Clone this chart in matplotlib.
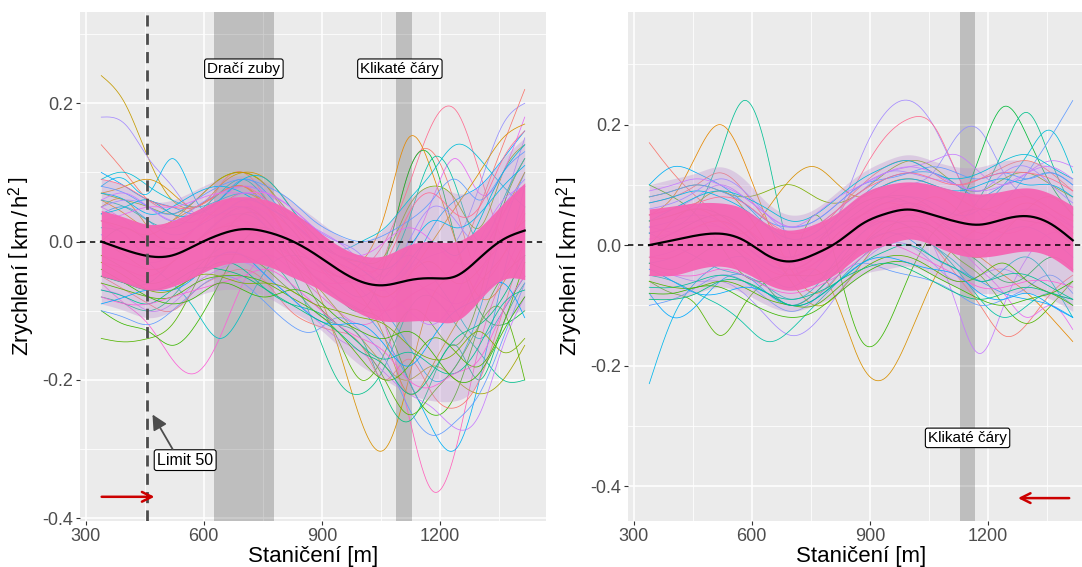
import numpy as np
import matplotlib
matplotlib.use("Agg")
import matplotlib.pyplot as plt

plt.rcParams['font.family'] = ['Liberation Sans', 'DejaVu Sans']
plt.rcParams['mathtext.fontset'] = 'custom'
plt.rcParams['mathtext.rm'] = 'Liberation Sans'
plt.rcParams['mathtext.it'] = 'Liberation Sans:italic'

# ---------------- data ----------------
stations = [340, 400, 460, 520, 580, 640, 700, 760, 820, 880, 940, 1000,
            1060, 1120, 1180, 1240, 1300, 1360, 1415]

mean_left = [0.0, -0.012, -0.021, -0.02, -0.005, 0.01, 0.018, 0.014, 0.002, -0.017,
             -0.04, -0.058, -0.063, -0.056, -0.053, -0.05, -0.024, 0.003, 0.016]
mean_right = [0.0, 0.008, 0.016, 0.019, 0.008, -0.017, -0.027, -0.015, 0.006, 0.035,
              0.052, 0.059, 0.05, 0.039, 0.034, 0.043, 0.048, 0.035, 0.008]

core_hi_left = [0.045, 0.035, 0.025, 0.03, 0.045, 0.06, 0.065, 0.06, 0.045, 0.02, -0.005,
                -0.02, -0.02, -0.005, 0.0, 0.0, 0.02, 0.055, 0.085]
core_lo_left = [-0.05, -0.06, -0.07, -0.065, -0.05, -0.035, -0.03, -0.035, -0.05,
                -0.065, -0.085, -0.105, -0.115, -0.115, -0.115, -0.115, -0.085, -0.055, -0.055]
mid_hi_left = [0.09, 0.08, 0.06, 0.06, 0.075, 0.09, 0.095, 0.085, 0.06, 0.035, 0.01,
               0.0, 0.02, 0.06, 0.08, 0.07, 0.08, 0.12, 0.15]
mid_lo_left = [-0.09, -0.1, -0.11, -0.1, -0.08, -0.07, -0.07, -0.08, -0.1, -0.12, -0.15,
               -0.18, -0.2, -0.22, -0.23, -0.23, -0.2, -0.12, -0.1]

core_hi_right = [0.06, 0.065, 0.07, 0.07, 0.06, 0.035, 0.025, 0.035, 0.055, 0.085, 0.1,
                 0.105, 0.1, 0.09, 0.085, 0.09, 0.095, 0.085, 0.065]
core_lo_right = [-0.05, -0.05, -0.04, -0.035, -0.045, -0.065, -0.075, -0.065, -0.045, -0.015,
                 0.0, 0.01, 0.0, -0.015, -0.02, -0.015, -0.01, -0.02, -0.045]
mid_hi_right = [0.1, 0.11, 0.12, 0.13, 0.11, 0.07, 0.05, 0.06, 0.09, 0.12, 0.14, 0.15,
                0.14, 0.13, 0.13, 0.14, 0.14, 0.13, 0.11]
mid_lo_right = [-0.09, -0.09, -0.08, -0.07, -0.08, -0.1, -0.11, -0.1, -0.08, -0.05, -0.04,
                -0.035, -0.05, -0.07, -0.08, -0.08, -0.08, -0.09, -0.11]

runs_left = [
    [0.24, 0.2, 0.12, 0.06, 0.05, 0.07, 0.08, 0.05, 0.0, -0.03, -0.05, -0.06, -0.08, -0.05, -0.03, -0.06, -0.04, 0.0, 0.03],
    [0.18, 0.17, 0.12, 0.08, 0.04, 0.05, 0.06, 0.03, 0.01, -0.01, -0.04, -0.07, -0.1, -0.08, -0.07, -0.09, -0.05, 0.05, 0.15],
    [0.14, 0.1, 0.06, 0.04, 0.03, 0.08, 0.1, 0.06, 0.0, -0.03, -0.06, -0.05, -0.02, 0.1, 0.13, 0.05, -0.05, -0.02, 0.05],
    [0.08, 0.09, 0.07, 0.12, 0.06, 0.04, 0.06, 0.05, 0.03, 0.0, -0.03, -0.05, -0.1, -0.15, -0.2, -0.18, -0.1, 0.02, 0.1],
    [-0.14, -0.145, -0.14, -0.12, -0.06, 0.0, 0.04, 0.03, -0.02, -0.08, -0.14, -0.2, -0.16, -0.1, -0.12, -0.15, -0.08, 0.05, 0.12],
    [-0.06, -0.09, -0.12, -0.17, -0.19, -0.14, -0.06, -0.02, -0.04, -0.07, -0.1, -0.12, -0.1, -0.06, -0.08, -0.1, -0.05, 0.0, 0.02],
    [-0.1, -0.12, -0.13, -0.15, -0.12, -0.06, 0.0, 0.02, -0.01, -0.05, -0.08, -0.1, -0.12, -0.2, -0.25, -0.22, -0.12, -0.05, -0.02],
    [0.02, 0.01, -0.03, -0.06, -0.1, -0.14, -0.1, -0.04, -0.02, -0.03, -0.06, -0.08, -0.05, -0.02, -0.05, -0.1, -0.14, -0.1, -0.05],
    [0.05, 0.06, 0.02, 0.0, 0.02, 0.05, 0.07, 0.05, 0.0, -0.06, -0.15, -0.26, -0.3, -0.2, -0.08, -0.05, -0.02, 0.04, 0.1],
    [0.03, 0.01, -0.02, -0.01, 0.02, 0.04, 0.03, 0.0, -0.03, -0.05, -0.06, -0.05, -0.12, -0.25, -0.36, -0.3, -0.15, -0.05, 0.02],
    [-0.02, -0.03, -0.04, -0.03, 0.0, 0.02, 0.02, 0.0, -0.02, -0.04, -0.05, -0.04, 0.0, 0.08, 0.17, 0.19, 0.1, 0.0, -0.05],
    [0.0, 0.02, 0.0, -0.01, 0.0, 0.03, 0.05, 0.03, -0.01, -0.05, -0.08, -0.1, -0.03, 0.1, 0.12, 0.0, -0.1, -0.12, -0.1],
    [-0.05, -0.06, -0.06, -0.03, 0.0, 0.03, 0.04, 0.02, -0.04, -0.12, -0.2, -0.22, -0.18, -0.1, -0.08, -0.12, -0.16, -0.2, -0.2],
    [0.04, 0.05, 0.03, 0.01, 0.02, 0.04, 0.05, 0.02, -0.02, -0.05, -0.08, -0.1, -0.14, -0.2, -0.27, -0.3, -0.2, -0.05, 0.08],
    [0.01, -0.01, -0.03, -0.02, 0.0, 0.03, 0.05, 0.04, 0.0, -0.03, -0.05, -0.06, -0.06, -0.04, -0.02, 0.0, 0.08, 0.17, 0.2],
    [-0.03, -0.04, -0.05, -0.03, 0.0, 0.02, 0.03, 0.01, -0.02, -0.05, -0.07, -0.09, -0.1, -0.08, -0.06, -0.03, 0.05, 0.14, 0.22],
    [0.06, 0.04, 0.02, 0.03, 0.05, 0.07, 0.08, 0.05, 0.02, -0.02, -0.05, -0.03, 0.04, 0.15, 0.1, 0.0, -0.08, -0.06, 0.0],
    [0.0, -0.02, -0.04, -0.03, 0.0, 0.02, 0.02, 0.0, -0.03, -0.06, -0.1, -0.14, -0.18, -0.2, -0.18, -0.2, -0.22, -0.2, -0.15],
    [-0.08, -0.09, -0.1, -0.08, -0.04, -0.01, 0.0, -0.02, -0.06, -0.1, -0.12, -0.14, -0.22, -0.26, -0.2, -0.15, -0.2, -0.12, -0.06],
    [0.1, 0.08, 0.06, 0.05, 0.04, 0.06, 0.09, 0.07, 0.03, 0.0, -0.02, -0.04, -0.06, -0.04, 0.02, 0.06, 0.08, 0.12, 0.16],
    [0.07, 0.06, 0.05, 0.04, 0.06, 0.09, 0.1, 0.08, 0.04, 0.01, -0.02, -0.03, -0.02, 0.05, 0.08, 0.06, 0.02, 0.1, 0.14],
    [-0.07, -0.08, -0.1, -0.09, -0.06, -0.04, -0.03, -0.05, -0.08, -0.11, -0.14, -0.16, -0.19, -0.22, -0.24, -0.27, -0.25, -0.15, -0.08],
    [0.09, 0.1, 0.08, 0.06, 0.05, 0.06, 0.07, 0.06, 0.04, 0.02, -0.01, 0.0, 0.02, 0.06, 0.1, 0.14, 0.12, 0.08, 0.05],
    [-0.05, -0.07, -0.09, -0.1, -0.07, -0.05, -0.04, -0.06, -0.1, -0.12, -0.13, -0.15, -0.2, -0.17, -0.22, -0.24, -0.2, -0.1, 0.0],
    [0.03, 0.02, 0.01, 0.03, 0.06, 0.09, 0.1, 0.08, 0.03, -0.01, -0.04, -0.08, -0.14, -0.22, -0.18, -0.12, -0.06, -0.02, 0.04],
    [-0.1, -0.11, -0.12, -0.1, -0.07, -0.05, -0.06, -0.09, -0.12, -0.13, -0.11, -0.13, -0.17, -0.24, -0.28, -0.26, -0.22, -0.14, -0.06],
    [0.05, 0.03, 0.0, -0.01, 0.02, 0.06, 0.08, 0.07, 0.04, 0.0, -0.03, -0.05, -0.07, -0.02, 0.06, 0.12, 0.07, 0.1, 0.18],
    [0.06, 0.05, 0.03, 0.02, 0.04, 0.07, 0.09, 0.06, 0.02, -0.02, -0.05, -0.06, -0.04, 0.03, 0.12, 0.08, 0.0, 0.06, 0.12],
    [-0.02, -0.04, -0.06, -0.05, -0.03, -0.02, -0.02, -0.04, -0.07, -0.09, -0.12, -0.15, -0.2, -0.25, -0.22, -0.18, -0.12, -0.1, -0.2],
    [0.07, 0.08, 0.09, 0.07, 0.05, 0.08, 0.1, 0.09, 0.05, 0.0, -0.03, -0.06, -0.08, -0.05, 0.0, 0.05, 0.1, 0.15, 0.17],
]

dense_left = [
    [0.07, 0.06, 0.04, 0.05, 0.07, 0.08, 0.07, 0.05, 0.03, 0.0, -0.02, -0.03, -0.04, -0.01, 0.03, 0.02, 0.04, 0.08, 0.11],
    [-0.07, -0.08, -0.09, -0.07, -0.05, -0.03, -0.04, -0.07, -0.09, -0.1, -0.12, -0.15, -0.17, -0.16, -0.18, -0.19, -0.15, -0.09, -0.07],
    [0.05, 0.06, 0.05, 0.03, 0.05, 0.07, 0.08, 0.07, 0.05, 0.02, 0.0, -0.02, -0.05, 0.0, 0.05, 0.03, 0.0, 0.05, 0.09],
    [-0.06, -0.07, -0.08, -0.08, -0.06, -0.05, -0.05, -0.06, -0.08, -0.1, -0.13, -0.17, -0.2, -0.18, -0.14, -0.16, -0.18, -0.12, -0.03],
    [0.08, 0.07, 0.05, 0.04, 0.06, 0.08, 0.09, 0.08, 0.06, 0.03, 0.01, 0.0, 0.01, 0.03, 0.06, 0.09, 0.06, 0.1, 0.13],
    [-0.08, -0.09, -0.09, -0.08, -0.07, -0.06, -0.05, -0.04, -0.06, -0.09, -0.12, -0.14, -0.16, -0.2, -0.21, -0.19, -0.17, -0.1, -0.05],
    [0.04, 0.05, 0.06, 0.04, 0.04, 0.06, 0.09, 0.09, 0.05, 0.01, -0.02, -0.04, -0.06, -0.03, 0.0, -0.02, 0.03, 0.1, 0.14],
    [-0.04, -0.06, -0.08, -0.09, -0.08, -0.06, -0.07, -0.08, -0.07, -0.08, -0.11, -0.13, -0.14, -0.13, -0.16, -0.2, -0.19, -0.13, -0.08],
    [0.06, 0.07, 0.05, 0.03, 0.03, 0.05, 0.07, 0.06, 0.04, 0.02, 0.0, -0.03, -0.07, -0.1, -0.12, -0.08, 0.0, 0.06, 0.08],
    [-0.09, -0.08, -0.07, -0.07, -0.05, -0.02, -0.02, -0.05, -0.08, -0.11, -0.12, -0.12, -0.15, -0.18, -0.14, -0.1, -0.08, -0.06, -0.11],
    [0.09, 0.08, 0.06, 0.05, 0.05, 0.07, 0.08, 0.06, 0.03, 0.0, -0.02, -0.04, -0.03, 0.04, 0.07, 0.04, 0.05, 0.12, 0.16],
    [-0.05, -0.06, -0.07, -0.06, -0.04, -0.04, -0.05, -0.07, -0.09, -0.11, -0.13, -0.16, -0.18, -0.22, -0.19, -0.14, -0.12, -0.08, -0.02],
    [0.03, 0.04, 0.05, 0.05, 0.06, 0.07, 0.07, 0.07, 0.05, 0.02, -0.01, -0.02, 0.0, 0.02, 0.0, -0.03, -0.02, 0.04, 0.08],
    [-0.03, -0.05, -0.07, -0.07, -0.05, -0.05, -0.06, -0.06, -0.07, -0.09, -0.1, -0.11, -0.12, -0.15, -0.17, -0.16, -0.13, -0.16, -0.14],
]

runs_right = [
    [0.17, 0.12, 0.08, 0.05, 0.03, 0.0, -0.02, 0.0, 0.03, 0.05, 0.06, 0.07, 0.06, 0.04, 0.02, 0.03, 0.05, 0.04, 0.0],
    [-0.23, -0.12, -0.06, -0.03, -0.02, -0.05, -0.07, -0.04, 0.0, 0.03, 0.05, 0.06, 0.04, 0.02, 0.0, 0.02, 0.03, 0.01, -0.02],
    [0.02, 0.03, 0.06, 0.15, 0.24, 0.15, -0.02, -0.06, -0.03, 0.02, 0.05, 0.07, 0.05, 0.02, 0.01, 0.04, 0.06, 0.04, 0.0],
    [0.05, 0.08, 0.15, 0.2, 0.14, 0.04, -0.04, -0.08, -0.05, 0.0, 0.04, 0.06, 0.08, 0.06, 0.03, 0.05, 0.07, 0.05, 0.02],
    [0.0, 0.02, 0.04, 0.05, 0.03, -0.01, -0.05, -0.04, -0.1, -0.2, -0.22, -0.15, -0.06, 0.0, 0.03, 0.05, 0.05, 0.03, 0.0],
    [0.1, 0.08, 0.05, 0.0, -0.05, -0.06, -0.03, 0.05, -0.04, -0.16, -0.14, -0.05, 0.02, 0.05, 0.06, 0.05, 0.04, 0.03, 0.0],
    [0.02, 0.03, 0.04, 0.03, 0.0, -0.03, -0.04, -0.02, 0.05, 0.15, 0.22, 0.24, 0.2, 0.12, 0.06, 0.05, 0.06, 0.05, 0.03],
    [0.0, 0.01, 0.03, 0.04, 0.02, -0.02, -0.03, 0.0, 0.05, 0.12, 0.18, 0.21, 0.2, 0.12, 0.05, 0.02, 0.03, 0.04, 0.02],
    [0.03, 0.02, 0.01, 0.02, 0.01, -0.02, -0.04, -0.03, 0.0, 0.04, 0.06, 0.05, 0.0, -0.1, -0.18, -0.1, -0.02, 0.02, 0.01],
    [-0.02, -0.01, 0.01, 0.02, 0.0, -0.03, -0.05, -0.03, 0.01, 0.05, 0.08, 0.1, 0.12, 0.18, 0.19, 0.12, 0.08, 0.06, 0.03],
    [0.04, 0.05, 0.06, 0.05, 0.02, -0.01, -0.03, 0.0, 0.04, 0.07, 0.08, 0.07, 0.05, 0.06, 0.15, 0.23, 0.18, 0.1, 0.05],
    [0.0, 0.02, 0.04, 0.05, 0.03, -0.01, -0.02, 0.0, 0.03, 0.06, 0.08, 0.08, 0.06, 0.04, 0.08, 0.16, 0.22, 0.14, 0.06],
    [0.03, 0.04, 0.05, 0.04, 0.02, -0.01, -0.02, 0.0, 0.03, 0.05, 0.07, 0.07, 0.05, 0.03, 0.04, 0.07, 0.12, 0.18, 0.24],
    [-0.03, -0.02, 0.0, 0.01, 0.0, -0.03, -0.04, -0.02, 0.02, 0.05, 0.07, 0.08, 0.07, 0.05, 0.06, 0.1, 0.15, 0.19, 0.12],
    [0.0, 0.01, 0.03, 0.04, 0.02, -0.02, -0.04, -0.02, 0.02, 0.05, 0.07, 0.06, 0.04, 0.01, -0.02, -0.05, -0.08, -0.12, -0.16],
    [-0.02, -0.02, 0.0, 0.01, -0.01, -0.04, -0.05, -0.03, 0.0, 0.03, 0.04, 0.03, 0.0, -0.05, -0.1, -0.15, -0.13, -0.08, -0.05],
    [0.01, 0.02, 0.03, 0.03, 0.01, -0.02, -0.03, -0.02, 0.01, 0.04, 0.06, 0.06, 0.04, 0.0, -0.04, -0.08, -0.12, -0.1, -0.14],
    [-0.06, -0.08, -0.1, -0.15, -0.1, -0.06, -0.05, -0.05, -0.03, 0.0, 0.02, 0.03, 0.02, -0.02, -0.05, -0.1, -0.13, -0.1, -0.06],
    [-0.08, -0.12, -0.1, -0.06, -0.05, -0.08, -0.1, -0.08, -0.04, 0.0, 0.02, 0.01, -0.02, -0.04, -0.06, -0.08, -0.09, -0.1, -0.12],
    [-0.04, -0.05, -0.06, -0.06, -0.08, -0.12, -0.15, -0.13, -0.08, -0.03, 0.0, 0.0, -0.03, -0.06, -0.05, -0.04, -0.06, -0.08, -0.09],
    [-0.05, -0.06, -0.08, -0.1, -0.13, -0.16, -0.14, -0.1, -0.06, -0.02, 0.01, 0.02, 0.0, -0.04, -0.09, -0.12, -0.1, -0.08, -0.1],
    [0.04, 0.05, 0.06, 0.04, 0.02, 0.06, 0.11, 0.13, 0.1, 0.08, 0.1, 0.11, 0.1, 0.08, 0.06, 0.07, 0.08, 0.06, 0.04],
    [0.08, 0.09, 0.1, 0.09, 0.08, 0.09, 0.1, 0.08, 0.07, 0.09, 0.12, 0.14, 0.13, 0.1, 0.09, 0.11, 0.12, 0.1, 0.08],
    [0.1, 0.13, 0.12, 0.1, 0.07, 0.03, 0.0, 0.01, 0.04, 0.08, 0.11, 0.12, 0.12, 0.1, 0.08, 0.1, 0.11, 0.12, 0.1],
    [-0.1, -0.09, -0.07, -0.05, -0.06, -0.09, -0.11, -0.09, -0.05, -0.03, -0.04, -0.05, -0.06, -0.08, -0.1, -0.09, -0.07, -0.05, -0.08],
    [0.07, 0.08, 0.1, 0.12, 0.09, 0.04, 0.01, 0.02, 0.06, 0.1, 0.13, 0.14, 0.12, 0.1, 0.11, 0.13, 0.14, 0.12, 0.09],
    [0.0, 0.04, 0.07, 0.09, 0.06, 0.0, -0.06, -0.1, -0.08, -0.03, 0.02, 0.05, 0.03, 0.0, -0.02, 0.02, 0.06, 0.08, 0.05],
    [-0.03, -0.04, -0.02, 0.0, -0.02, -0.07, -0.1, -0.08, -0.04, 0.0, 0.03, 0.04, 0.03, 0.0, -0.03, -0.06, -0.05, -0.02, -0.04],
    [0.05, 0.06, 0.08, 0.1, 0.08, 0.05, 0.03, 0.04, 0.07, 0.1, 0.12, 0.13, 0.14, 0.15, 0.12, 0.1, 0.12, 0.14, 0.13],
    [0.02, 0.0, -0.02, -0.04, -0.05, -0.07, -0.09, -0.07, -0.02, 0.02, 0.04, 0.03, 0.0, -0.03, -0.06, -0.04, -0.02, -0.06, -0.12],
]

dense_right = [
    [0.07, 0.08, 0.09, 0.08, 0.06, 0.03, 0.01, 0.02, 0.05, 0.08, 0.1, 0.11, 0.1, 0.09, 0.1, 0.11, 0.1, 0.1, 0.08],
    [-0.07, -0.07, -0.06, -0.05, -0.06, -0.08, -0.09, -0.08, -0.06, -0.03, -0.01, 0.0, -0.02, -0.04, -0.06, -0.05, -0.05, -0.07, -0.09],
    [0.06, 0.07, 0.09, 0.11, 0.09, 0.05, 0.02, 0.03, 0.06, 0.09, 0.12, 0.12, 0.11, 0.1, 0.09, 0.12, 0.13, 0.1, 0.07],
    [-0.06, -0.07, -0.07, -0.06, -0.07, -0.09, -0.1, -0.1, -0.07, -0.04, -0.02, -0.02, -0.04, -0.06, -0.05, -0.03, -0.06, -0.08, -0.1],
    [0.08, 0.09, 0.1, 0.09, 0.07, 0.04, 0.03, 0.04, 0.07, 0.1, 0.11, 0.12, 0.13, 0.12, 0.11, 0.12, 0.11, 0.12, 0.1],
    [-0.05, -0.05, -0.05, -0.04, -0.05, -0.07, -0.08, -0.07, -0.05, -0.02, 0.0, -0.01, -0.03, -0.05, -0.07, -0.07, -0.06, -0.06, -0.07],
    [0.04, 0.06, 0.08, 0.09, 0.08, 0.06, 0.04, 0.05, 0.08, 0.11, 0.13, 0.14, 0.12, 0.11, 0.12, 0.14, 0.15, 0.13, 0.11],
    [-0.08, -0.08, -0.07, -0.07, -0.09, -0.11, -0.12, -0.11, -0.08, -0.05, -0.03, -0.03, -0.05, -0.07, -0.09, -0.1, -0.09, -0.08, -0.06],
    [0.09, 0.1, 0.11, 0.1, 0.08, 0.05, 0.03, 0.05, 0.08, 0.1, 0.12, 0.13, 0.12, 0.1, 0.09, 0.1, 0.12, 0.13, 0.11],
    [-0.04, -0.06, -0.08, -0.08, -0.07, -0.08, -0.1, -0.09, -0.06, -0.03, -0.02, -0.03, -0.04, -0.05, -0.08, -0.09, -0.08, -0.1, -0.12],
    [0.05, 0.06, 0.07, 0.08, 0.07, 0.04, 0.02, 0.03, 0.06, 0.09, 0.11, 0.12, 0.11, 0.1, 0.11, 0.12, 0.12, 0.11, 0.09],
    [-0.09, -0.09, -0.08, -0.06, -0.06, -0.08, -0.1, -0.09, -0.06, -0.04, -0.03, -0.04, -0.06, -0.08, -0.09, -0.08, -0.07, -0.08, -0.09],
]

# zones (m) and annotations
zones_left = [(625, 778), (1088, 1129)]
zones_right = [(1130, 1168)]
zone_labels_left = [("Dračí zuby", 702, 0.25), ("Klikaté čáry", 1098, 0.25)]
zone_labels_right = [("Klikaté čáry", 1148, -0.32)]
limit_station = 455
limit_label = ("Limit 50", 553, -0.316)
limit_arrow = ((521, -0.30), (470, -0.25))
dir_arrow_left = ((341, -0.369), (475, -0.369))
dir_arrow_right = ((1406, -0.42), (1276, -0.42))

# ---------------- styling ----------------
colors_left = ['#C49A00', '#A58AFF', '#F8766D', '#00B6EB', '#53B400', '#FB61D7', '#39B600',
               '#00BFC4', '#D89000', '#FF62BC', '#FF6C91', '#00BA38', '#00C08B', '#00B0F6',
               '#9590FF', '#F8766D', '#E58700', '#A3A500', '#00BF7D', '#00A9FF', '#7CAE00',
               '#C77CFF', '#00BCD8', '#F8766D', '#C49A00', '#619CFF', '#E76BF3', '#00C1A3',
               '#53B400', '#D89000']
colors_right = ['#F8766D', '#00B6EB', '#00C094', '#E58700', '#D89000', '#39B600', '#A58AFF',
                '#FF6C91', '#C77CFF', '#9590FF', '#00BA38', '#00C08B', '#619CFF', '#00BCD8',
                '#E58700', '#F8766D', '#E76BF3', '#53B400', '#00A9FF', '#A58AFF', '#00C1A3',
                '#D89000', '#7CAE00', '#00B0F6', '#619CFF', '#F8766D', '#A3A500', '#00BA38',
                '#C77CFF', '#00BFC4']
dense_colors = ['#00B6EB', '#00C094', '#A58AFF', '#53B400', '#619CFF', '#FB61D7',
                '#00BCD8', '#39B600', '#C77CFF', '#00A9FF', '#FF6C91', '#00BF7D',
                '#E76BF3', '#7CAE00']
PINK = '#F564B3'
BG = '#EBEBEB'


def spline(xk, yk, xs):
    xk = np.asarray(xk, float)
    yk = np.asarray(yk, float)
    n = len(xk)
    h = np.diff(xk)
    A = np.zeros((n, n))
    r = np.zeros(n)
    A[0, 0] = A[-1, -1] = 1
    for i in range(1, n - 1):
        A[i, i - 1] = h[i - 1]
        A[i, i] = 2 * (h[i - 1] + h[i])
        A[i, i + 1] = h[i]
        r[i] = 3 * ((yk[i + 1] - yk[i]) / h[i] - (yk[i] - yk[i - 1]) / h[i - 1])
    c = np.linalg.solve(A, r)
    b = (yk[1:] - yk[:-1]) / h - h * (2 * c[:-1] + c[1:]) / 3
    d = (c[1:] - c[:-1]) / (3 * h)
    idx = np.clip(np.searchsorted(xk, xs) - 1, 0, n - 2)
    dx = xs - xk[idx]
    return yk[idx] + b[idx] * dx + c[idx] * dx ** 2 + d[idx] * dx ** 3


W, H = 1082, 567
fig = plt.figure(figsize=(W / 100, H / 100), dpi=100)
axL = fig.add_axes([80 / W, (H - 521) / H, 466 / W, 509 / H])
axR = fig.add_axes([628 / W, (H - 521) / H, 466 / W, 509 / H])

xs = np.linspace(stations[0], stations[-1], 600)


def style(ax, ylim, yminor):
    ax.set_facecolor(BG)
    ax.set_xlim(286, 1469)
    ax.set_ylim(*ylim)
    ax.set_xticks([300, 600, 900, 1200])
    ax.set_xticks([450, 750, 1050, 1350], minor=True)
    ax.set_yticks([-0.4, -0.2, 0.0, 0.2])
    ax.set_yticklabels(['-0.4', '-0.2', '0.0', '0.2'])
    ax.set_yticks(yminor, minor=True)
    ax.grid(which='major', color='white', lw=1.1, zorder=0)
    ax.grid(which='minor', color='white', lw=0.55, zorder=0)
    ax.set_axisbelow(True)
    for s in ax.spines.values():
        s.set_visible(False)
    ax.tick_params(which='major', length=3, width=0.8, color='#333333',
                   labelsize=13, labelcolor='#4D4D4D', pad=2)
    ax.tick_params(which='minor', length=0)
    ax.set_xlabel('Staničení [m]', fontsize=16, labelpad=1)
    ax.set_ylabel(r'Zrychlení $\left[\,\mathrm{km}\,/\,\mathrm{h}^{2}\,\right]$',
                  fontsize=16, labelpad=4)


def draw(ax, runs, cols, dense, core_lo, core_hi, mid_lo, mid_hi, mean, zones):
    for a, b in zones:
        ax.axvspan(a, b, color='black', alpha=0.19, lw=0, zorder=1)
    for run, c in zip(runs, cols):
        ax.plot(xs, spline(stations, run, xs), color=c, lw=0.55, zorder=2.5)
    ax.fill_between(xs, spline(stations, mid_lo, xs), spline(stations, mid_hi, xs),
                    color='#BE92D0', alpha=0.36, lw=0, zorder=2.6)
    for run, c in zip(dense, dense_colors):
        ax.plot(xs, spline(stations, run, xs), color=c, lw=0.55, zorder=2.7)
    ax.fill_between(xs, spline(stations, core_lo, xs), spline(stations, core_hi, xs),
                    color=PINK, alpha=0.95, lw=0, zorder=3)
    ax.plot(xs, spline(stations, mean, xs), color='black', lw=1.6, zorder=4)
    ax.axhline(0, color='black', lw=1.1, dashes=(3.5, 3), zorder=5)


style(axL, (-0.404, 0.332), [-0.3, -0.1, 0.1, 0.3])
style(axR, (-0.458, 0.387), [-0.3, -0.1, 0.1, 0.3])

draw(axL, runs_left, colors_left, dense_left, core_lo_left, core_hi_left, mid_lo_left,
     mid_hi_left, mean_left, zones_left)
draw(axR, runs_right, colors_right, dense_right, core_lo_right, core_hi_right, mid_lo_right,
     mid_hi_right, mean_right, zones_right)

axL.axvline(limit_station, color='#4D4D4D', lw=2.0, dashes=(4, 2.6), zorder=5)

box = dict(boxstyle='round,pad=0.18,rounding_size=0.15', fc='white', ec='black', lw=0.8)
for txt, x, y in zone_labels_left:
    axL.text(x, y, txt, ha='center', va='center', fontsize=11, bbox=box, zorder=6)
for txt, x, y in zone_labels_right:
    axR.text(x, y, txt, ha='center', va='center', fontsize=11, bbox=box, zorder=6)
axL.text(limit_label[1], limit_label[2], limit_label[0], ha='center', va='center',
         fontsize=11.5, bbox=box, zorder=6)

axL.annotate('', xy=limit_arrow[1], xytext=limit_arrow[0],
             arrowprops=dict(arrowstyle='-|>,head_length=0.9,head_width=0.45',
                             color='#4D4D4D', lw=1.3, shrinkA=0, shrinkB=0), zorder=6)
for ax, (p0, p1) in ((axL, dir_arrow_left), (axR, dir_arrow_right)):
    ax.annotate('', xy=p1, xytext=p0,
                arrowprops=dict(arrowstyle='->,head_length=0.7,head_width=0.35',
                                color='#CC0000', lw=1.8, shrinkA=0, shrinkB=0), zorder=6)

fig.savefig('out.png', dpi=100, facecolor='white')
